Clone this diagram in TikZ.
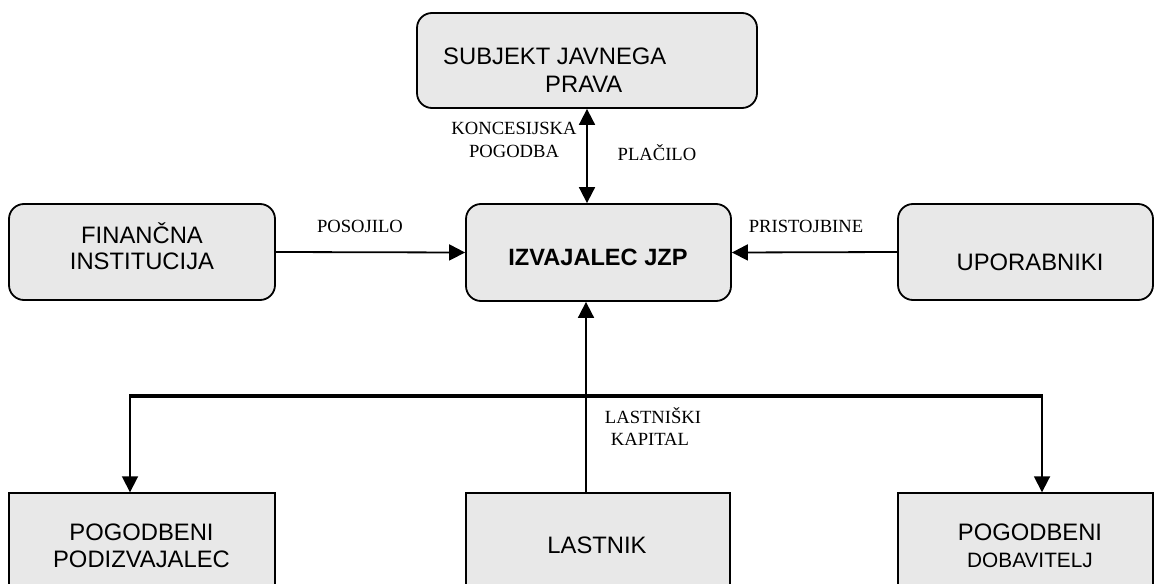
\documentclass[tikz,border=0pt]{standalone}
\usepackage{fontspec}
\setmainfont{Liberation Serif}
\setsansfont{Liberation Sans}
\usetikzlibrary{arrows.meta}
\definecolor{boxfill}{RGB}{232,232,232}
\begin{document}
\begin{tikzpicture}[x=1pt,y=-1pt,
  roundbox/.style={draw, line width=1.8pt, fill=boxfill, rounded corners=15pt, inner sep=0pt},
  plainbox/.style={draw, line width=1.4pt, fill=boxfill, inner sep=0pt},
  boxtext/.style={font=\sffamily\fontsize{23.8}{26}\selectfont, inner sep=0pt, anchor=base},
  smalltext/.style={font=\sffamily\fontsize{20.8}{24}\selectfont, inner sep=0pt, anchor=base},
  flowlabel/.style={font=\rmfamily\fontsize{18.6}{22}\selectfont, inner sep=0pt, anchor=base},
  flow/.style={line width=1.8pt, -{Triangle[length=16pt, width=16pt]}},
  bothflow/.style={line width=1.8pt, {Triangle[length=16pt, width=16pt]}-{Triangle[length=16pt, width=16pt]}},
  bus/.style={line width=3.5pt}
]
\useasboundingbox (0,0) rectangle (1155,583);
\fill[white] (0,0) rectangle (1155,583);

% upper row of rounded boxes
\node[roundbox, minimum width=340pt, minimum height=95pt] (subjekt) at (587,60.5) {};
\node[roundbox, minimum width=266pt, minimum height=96pt] (banka) at (142,252) {};
\node[roundbox, minimum width=265pt, minimum height=97pt] (izvajalec) at (598.5,252.5) {};
\node[roundbox, minimum width=255pt, minimum height=96pt] (uporabniki) at (1025.5,252) {};

% lower row of plain boxes, running off the bottom edge
\node[plainbox, minimum width=266pt, minimum height=110pt] (podizvajalec) at (142,548) {};
\node[plainbox, minimum width=264pt, minimum height=110pt] (lastnik) at (598,548) {};
\node[plainbox, minimum width=255pt, minimum height=110pt] (dobavitelj) at (1025.5,548) {};

% box texts
\node[boxtext, anchor=base west] (t-subjekt1) at (443,65) {SUBJEKT JAVNEGA};
\node[boxtext, anchor=base west] (t-subjekt2) at (545,93) {PRAVA};
\node[boxtext] (t-banka1) at (142,243) {FINANČNA};
\node[boxtext] (t-banka2) at (142,269) {INSTITUCIJA};
\node[boxtext, font=\sffamily\bfseries\fontsize{23.6}{26}\selectfont] (t-izv) at (598,265) {IZVAJALEC JZP};
\node[boxtext] (t-upor) at (1030,270) {UPORABNIKI};
\node[boxtext] (t-podiz1) at (141.5,540) {POGODBENI};
\node[boxtext] (t-podiz2) at (141.5,567) {PODIZVAJALEC};
\node[boxtext] (t-last) at (597,553) {LASTNIK};
\node[boxtext] (t-dob1) at (1030,540) {POGODBENI};
\node[smalltext] (t-dob2) at (1030,567) {DOBAVITELJ};

% flows between the boxes
\draw[bothflow] (subjekt.south) -- (subjekt.south |- izvajalec.north);
\draw[flow] (banka.east) -- (izvajalec.west);
\draw[flow] (uporabniki.west) -- (izvajalec.east);
\coordinate (capital) at (586,400);
\draw[flow] (capital |- lastnik.north) -- (capital |- izvajalec.south);

% distribution bus to the contractors
\coordinate (busL) at (130,396);
\coordinate (busR) at (1042,396);
\draw[bus] ([xshift=-1pt]busL) -- ([xshift=1pt]busR);
\draw[flow] (busL) -- (busL |- podizvajalec.north);
\draw[flow] (busR) -- (busR |- dobavitelj.north);

% flow labels
\node[flowlabel] (l-konc1) at (514,135) {KONCESIJSKA};
\node[flowlabel] (l-konc2) at (514,157) {POGODBA};
\node[flowlabel] (l-plac) at (657,160) {PLAČILO};
\node[flowlabel] (l-pos) at (360,232) {POSOJILO};
\node[flowlabel] (l-prist) at (806,232) {PRISTOJBINE};
\node[flowlabel] (l-last1) at (653,423) {LASTNIŠKI};
\node[flowlabel] (l-last2) at (650,445) {KAPITAL};
\end{tikzpicture}
\end{document}
